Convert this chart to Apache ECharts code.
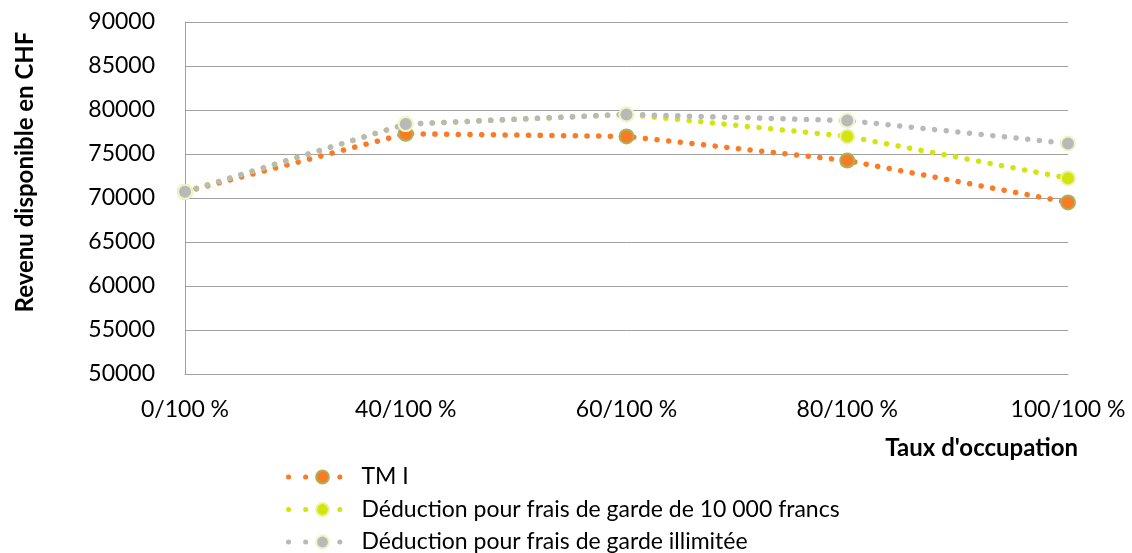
<!DOCTYPE html>
<html><head><meta charset="utf-8">
<script src="https://cdn.jsdelivr.net/npm/echarts@6/dist/echarts.min.js"></script>
<style>html,body{margin:0;padding:0;background:#fff}#c{width:1132px;height:553px}</style>
</head><body><div id="c"></div>
<script>
const categories = ['0/100 %', '40/100 %', '60/100 %', '80/100 %', '100/100 %'];
const tmI = [70700, 77300, 77000, 74250, 69500];
const deduction10000 = [70700, 78400, 79500, 77000, 72250];
const deductionIllimitee = [70700, 78400, 79500, 78800, 76200];
const seriesNames = ['TM I', 'Déduction pour frais de garde de 10 000 francs', 'Déduction pour frais de garde illimitée'];
const yTicks = {min: 50000, max: 90000, interval: 5000};

const FONT = 'Lato';
const DOTS = [0.1, 11.6];
function mk(name, data, color, border) {
  return {
    name, type: 'line', data,
    symbol: 'circle', symbolSize: 14,
    itemStyle: {color, borderColor: border, borderWidth: 2},
    lineStyle: {color, width: 5.5, type: DOTS, cap: 'round'},
    emphasis: {disabled: true}
  };
}
const chart = echarts.init(document.getElementById('c'));
chart.setOption({
  animation: false,
  textStyle: {fontFamily: FONT},
  grid: {left: 185, right: 64, top: 22, bottom: 179},
  legend: {
    orient: 'vertical', left: 286, top: 464, height: 140, padding: 0,
    itemWidth: 68, itemHeight: 16, itemGap: 6.5,
    lineStyle: {width: 5, type: [0.1, 17], cap: 'round'},
    textStyle: {fontFamily: FONT, fontSize: 23, lineHeight: 26, color: '#000'},
    data: seriesNames
  },
  xAxis: {
    type: 'category', data: categories, boundaryGap: false,
    axisLine: {lineStyle: {color: '#a0a0a0'}},
    axisTick: {show: false},
    axisLabel: {color: '#000', fontSize: 23, margin: 24, fontFamily: FONT}
  },
  yAxis: {
    type: 'value', min: yTicks.min, max: yTicks.max, interval: yTicks.interval,
    axisLine: {show: true, lineStyle: {color: '#a0a0a0'}},
    axisTick: {show: false},
    splitLine: {lineStyle: {color: '#a0a0a0'}},
    axisLabel: {color: '#000', fontSize: 23, margin: 30, fontFamily: FONT, formatter: v => String(v)}
  },
  graphic: [
    {type: 'text', x: 25, y: 172, rotation: Math.PI / 2,
     style: {text: 'Revenu disponible en CHF', fontSize: 24, fontWeight: 'bold', fontFamily: FONT, fill: '#000', align: 'center', verticalAlign: 'middle'}},
    {type: 'text', x: 1078, y: 448,
     style: {text: "Taux d'occupation", fontSize: 24, fontWeight: 'bold', fontFamily: FONT, fill: '#000', align: 'right', verticalAlign: 'middle'}}
  ],
  series: [
    mk(seriesNames[0], tmI, '#fb7a24', '#a9b35c'),
    mk(seriesNames[1], deduction10000, '#d4e50d', '#eaf4a8'),
    mk(seriesNames[2], deductionIllimitee, '#b9b9b9', '#eef6c2')
  ]
});
</script></body></html>
